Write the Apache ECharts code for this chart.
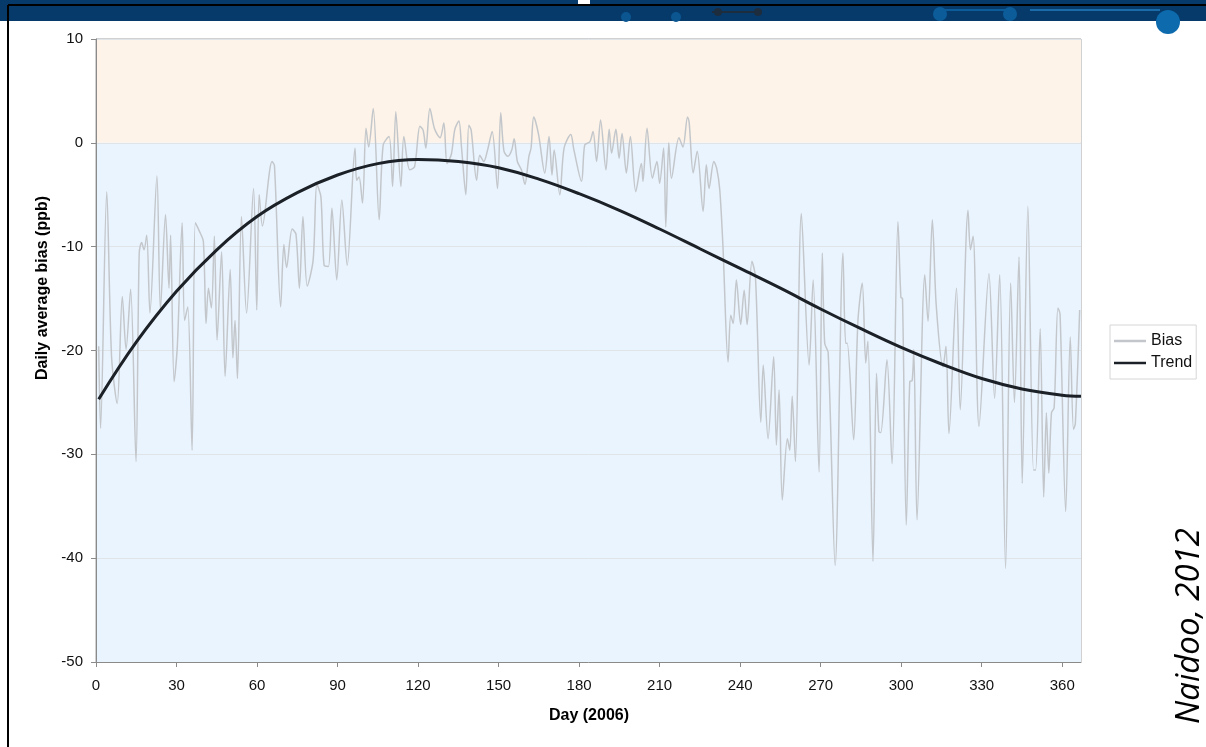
<!DOCTYPE html>
<html>
<head>
<meta charset="utf-8">
<script src="https://cdn.jsdelivr.net/npm/echarts@6/dist/echarts.min.js"></script>
<style>
  html, body { margin: 0; padding: 0; background: #fff; }
  #main { width: 1206px; height: 747px; }
</style>
</head>
<body>
<div id="main"></div>
<script>
// daily bias (day, ppb) - mostly the turning points
var biasDays = [1, 1.7, 4, 5.8, 7.9, 9.8, 11.2, 12.9, 14.9, 16.1, 17, 17.9, 18.9, 20.1, 22.7, 24, 25.9, 27.2, 27.8, 29.1,
    30.3, 32.1, 33, 34.2, 35.8, 37, 38.5, 40, 41, 41.9, 43, 44.1, 45.1, 46.8, 48.1, 50, 51, 51.8, 52.7, 54.2,
    56.1, 58.7, 59.9, 60.8, 62, 65.6, 66.5, 68.8, 70, 71, 73.1, 74.5, 75.8, 77.1, 78.7, 80.9, 82.3, 83.8, 85, 86.6,
    87.9, 89.7, 91.6, 93.6, 96.5, 97.1, 98, 99.3, 100.6, 101.6, 103.3, 105.5, 107, 109.2, 110.5, 111.7, 113.6, 114.7, 116.9, 118.7,
    120.7, 121.9, 122.9, 124.4, 126.2, 128.2, 129.6, 130.8, 132.4, 133.7, 135.2, 136.2, 137.8, 138.9, 139.8, 141.8, 143, 144.5, 145.8, 147.6,
    149.6, 150.8, 152, 153.5, 154.9, 155.8, 157, 158.5, 159.8, 161.3, 162.1, 163.1, 164.9, 167.2, 168.8, 169.9, 170.7, 172.8, 174.4, 176.9,
    178, 180.9, 182.1, 184, 185.2, 186.5, 188, 190, 191.2, 192.1, 193.7, 194.9, 196, 197.6, 199.1, 201.1, 203.2, 203.8, 205.3, 207.3,
    209, 210, 211.5, 212.3, 213.4, 214.4, 217.2, 218.7, 220.4, 221, 222.5, 224, 226.2, 227.4, 228.4, 230.2, 231.3, 232.4, 233.6, 235.5,
    236.5, 237.4, 238.6, 240.2, 241.5, 242.6, 244.4, 245.7, 247.7, 248.6, 250.4, 252.5, 253.5, 254.5, 255.7, 257.6, 258.5, 259.4, 260.6, 262.8,
    265.7, 267.2, 269.4, 270.6, 271.5, 272.8, 275.4, 278.3, 279.3, 279.9, 282.3, 283.9, 285.5, 286.8, 287.6, 289.5, 290.8, 291.7, 292.4, 294.7,
    296.6, 298.8, 299.9, 300.5, 301.9, 303.2, 304.1, 304.7, 305.9, 308.8, 310, 311.6, 313.1, 315.6, 316.7, 317.8, 320.6, 322, 324.9, 325.8,
    326.8, 329, 332.7, 334.8, 336.7, 338.9, 340.8, 342.2, 343.9, 345.1, 347.2, 349.3, 350.1, 351.8, 353.1, 354.1, 355, 356, 357, 358.4,
    359.2, 361.3, 363, 364.2, 364.9, 366.5];
var biasValues = [-19.6, -27.5, -4.7, -20.6, -25.1, -14.8, -19.9, -14.1, -30.7, -10.6, -9.6, -10.3, -8.9, -16.4, -3.2, -16.1, -6.9, -14, -8.9, -23,
    -19.6, -7.7, -17.1, -15.8, -29.6, -7.7, -8.5, -9.5, -17.4, -14, -15.9, -9.0, -19, -10.5, -22.5, -12.2, -20.7, -17.1, -22.7, -7.1,
    -16.4, -4.4, -16.1, -5.0, -8.0, -1.8, -2.2, -15.8, -9.8, -12, -8.3, -8.8, -14, -7.1, -13.8, -11.3, -4.0, -5.2, -11.8, -11.9,
    -6.3, -13.2, -5.5, -11.8, -0.5, -3.6, -3.3, -5.8, 1.4, -0.4, 3.3, -7.4, -0.2, 0.6, -4.2, 3.0, -4.2, 0.6, -2.6, -2.3,
    1.6, 1.2, -0.5, 3.3, 1.3, 0.5, 1.9, -2.0, -1.1, 1.3, 2.1, -0.5, -5.0, 1.7, 1.2, -3.6, -1.2, -1.8, -0.8, 1.1,
    -4.4, 2.9, -0.8, -1.3, -0.7, 0.4, -1.8, -2.6, -4.0, -1.3, -0.5, 2.5, 0.8, -2.9, 0.6, -3.1, -0.7, -5.0, -0.5, 0.8,
    -0.6, -3.7, -0.2, 0.1, 1.1, -1.8, 2.2, -2.6, 1.3, -1.0, 1.3, -1.5, 0.9, -2.9, 0.6, -4.7, -2.0, -3.7, 1.4, -3.4,
    -1.8, -3.9, -0.5, -8.1, 0.0, -3.4, 0.5, -0.4, 2.5, 2.0, -2.9, -0.8, -6.6, -2.1, -4.4, -1.8, -2.5, -4.5, -10.0, -21.1,
    -16.6, -17.4, -13.2, -17.5, -14.2, -17.5, -11.4, -12.9, -26.9, -21.4, -28.5, -20.6, -29.1, -23.8, -34.4, -28.5, -29.6, -24.4, -30.7, -6.8,
    -21.4, -13.2, -31.7, -10.6, -19.3, -20.2, -40.7, -10.6, -19.3, -19.3, -28.6, -17.1, -13.5, -21.2, -19.1, -40.3, -22.2, -27.8, -27.9, -20.9,
    -30.9, -7.6, -14.9, -15.0, -36.8, -23.0, -22.9, -19.9, -36.3, -12.7, -17.2, -7.4, -15.8, -21.6, -19.6, -28.0, -14.0, -25.7, -6.5, -10.3,
    -9.0, -27.3, -12.6, -24.6, -12.7, -41.0, -13.5, -25, -11.0, -32.8, -6.1, -31.5, -31.5, -17.9, -34.1, -26.0, -31.8, -26.0, -25.5, -15.9,
    -16.5, -35.5, -18.7, -27.6, -27.0, -16.1];

// trend curve read every 15 days along the black line
var trendDays = [1, 15, 30, 45, 60, 75, 90, 105, 120, 135, 150, 165, 180, 195, 210, 225, 240, 255, 270, 285, 300, 315, 330, 345, 360, 367];
var trendValues = [-24.7, -19.2, -14.3, -10.3, -7.1, -4.8, -3.1, -2.0, -1.6, -1.8, -2.4, -3.5, -4.9, -6.5, -8.3, -10.2, -12.1, -14.0, -16.0, -17.9, -19.7, -21.3, -22.7, -23.7, -24.3, -24.4];

var xTicks = [0, 30, 60, 90, 120, 150, 180, 210, 240, 270, 300, 330, 360];

var biasData = biasDays.map(function (d, i) { return [d, biasValues[i]]; });
var trendData = trendDays.map(function (d, i) { return [d, trendValues[i]]; });

var chart = echarts.init(document.getElementById('main'));
var fontFam = '"Liberation Sans", Arial, sans-serif';

var option = {
    animation: false,
    backgroundColor: '#fff',
    textStyle: { fontFamily: fontFam },
    grid: {
        left: 96, right: 125, top: 39, bottom: 85,
        show: true, borderColor: '#a3a3a3', borderWidth: 1
    },
    legend: {
        orient: 'vertical',
        left: 1110, top: 325,
        data: ['Bias', 'Trend'],
        icon: 'rect',
        itemWidth: 32, itemHeight: 2.5, itemGap: 6,
        padding: [8, 4, 8, 4],
        borderColor: '#d6d6d6', borderWidth: 1, backgroundColor: '#fff',
        textStyle: { fontSize: 16, color: '#111', fontFamily: fontFam }
    },
    xAxis: {
        type: 'value', min: 0, max: 367, z: 2,
        axisLine: { show: true, onZero: false, lineStyle: { color: '#8a8a8a' } },
        axisTick: { show: true, customValues: xTicks, length: 5, lineStyle: { color: '#8a8a8a' } },
        axisLabel: { customValues: xTicks, fontSize: 15, color: '#111', margin: 16 },
        splitLine: { show: false }
    },
    yAxis: {
        type: 'value', min: -50, max: 10, interval: 10, z: 2,
        axisLine: { show: true, lineStyle: { color: '#8a8a8a' } },
        axisTick: { show: true, length: 5, lineStyle: { color: '#8a8a8a' } },
        axisLabel: { fontSize: 15, color: '#111', margin: 13 },
        splitLine: { show: true, lineStyle: { color: '#dfe4e9' } }
    },
    series: [
        {
            name: 'Bias', type: 'line', data: biasData, z: 3,
            symbol: 'none', smooth: 0.3,
            lineStyle: { color: '#c3c7cb', width: 1.5 },
            itemStyle: { color: '#c3c7cb' },
            markArea: {
                silent: true,
                data: [
                    [{ yAxis: 0, itemStyle: { color: '#fdf3e8' } }, { yAxis: 10 }],
                    [{ yAxis: -50, itemStyle: { color: '#eaf4fe' } }, { yAxis: 0 }]
                ]
            }
        },
        {
            name: 'Trend', type: 'line', data: trendData, z: 4,
            symbol: 'none', smooth: 0.4,
            lineStyle: { color: '#1c2127', width: 3 },
            itemStyle: { color: '#1c2127' }
        }
    ],
    graphic: [
        // header strip
        { type: 'rect', shape: { x: 0, y: 0, width: 1206, height: 21 }, style: { fill: '#053a6b' }, z: 10 },
        { type: 'circle', shape: { cx: 626, cy: 17, r: 5 }, style: { fill: '#0b5690' }, z: 11 },
        { type: 'circle', shape: { cx: 676, cy: 17, r: 5 }, style: { fill: '#0b5690' }, z: 11 },
        { type: 'line', shape: { x1: 712, y1: 12, x2: 762, y2: 12 }, style: { stroke: '#1d2d3e', lineWidth: 2 }, z: 11 },
        { type: 'circle', shape: { cx: 718, cy: 12, r: 4 }, style: { fill: '#1d2d3e' }, z: 11 },
        { type: 'circle', shape: { cx: 758, cy: 12, r: 4 }, style: { fill: '#1d2d3e' }, z: 11 },
        { type: 'circle', shape: { cx: 940, cy: 14, r: 7 }, style: { fill: '#0d5c9a' }, z: 11 },
        { type: 'line', shape: { x1: 940, y1: 10, x2: 1010, y2: 10 }, style: { stroke: '#0d5c9a', lineWidth: 2 }, z: 11 },
        { type: 'circle', shape: { cx: 1010, cy: 14, r: 7 }, style: { fill: '#0d5c9a' }, z: 11 },
        { type: 'line', shape: { x1: 1030, y1: 10, x2: 1160, y2: 10 }, style: { stroke: '#1a6ba8', lineWidth: 2 }, z: 11 },
        { type: 'circle', shape: { cx: 1168, cy: 22, r: 12 }, style: { fill: '#0d6aad' }, z: 11 },
        { type: 'rect', shape: { x: 578, y: 0, width: 12, height: 5 }, style: { fill: '#ffffff' }, z: 12 },
        // frame lines
        { type: 'line', shape: { x1: 8, y1: 5, x2: 1206, y2: 5 }, style: { stroke: '#000', lineWidth: 2 }, z: 13 },
        { type: 'line', shape: { x1: 8, y1: 5, x2: 8, y2: 747 }, style: { stroke: '#000', lineWidth: 2 }, z: 13 },
        // axis titles
        {
            type: 'text', x: 43, y: 288, rotation: Math.PI / 2,
            style: { text: 'Daily average bias (ppb)', font: 'bold 16px "Liberation Sans", Arial', fill: '#000', textAlign: 'center', textVerticalAlign: 'middle' }
        },
        {
            type: 'text', x: 589, y: 716,
            style: { text: 'Day (2006)', font: 'bold 16px "Liberation Sans", Arial', fill: '#000', textAlign: 'center', textVerticalAlign: 'middle' }
        },
        {
            type: 'text', x: 1190, y: 626, rotation: Math.PI / 2,
            style: { text: 'Naidoo, 2012', font: 'italic 33px "Open Sans", sans-serif', fill: '#000', textAlign: 'center', textVerticalAlign: 'middle' }
        }
    ]
};

chart.setOption(option);
</script>
</body>
</html>
